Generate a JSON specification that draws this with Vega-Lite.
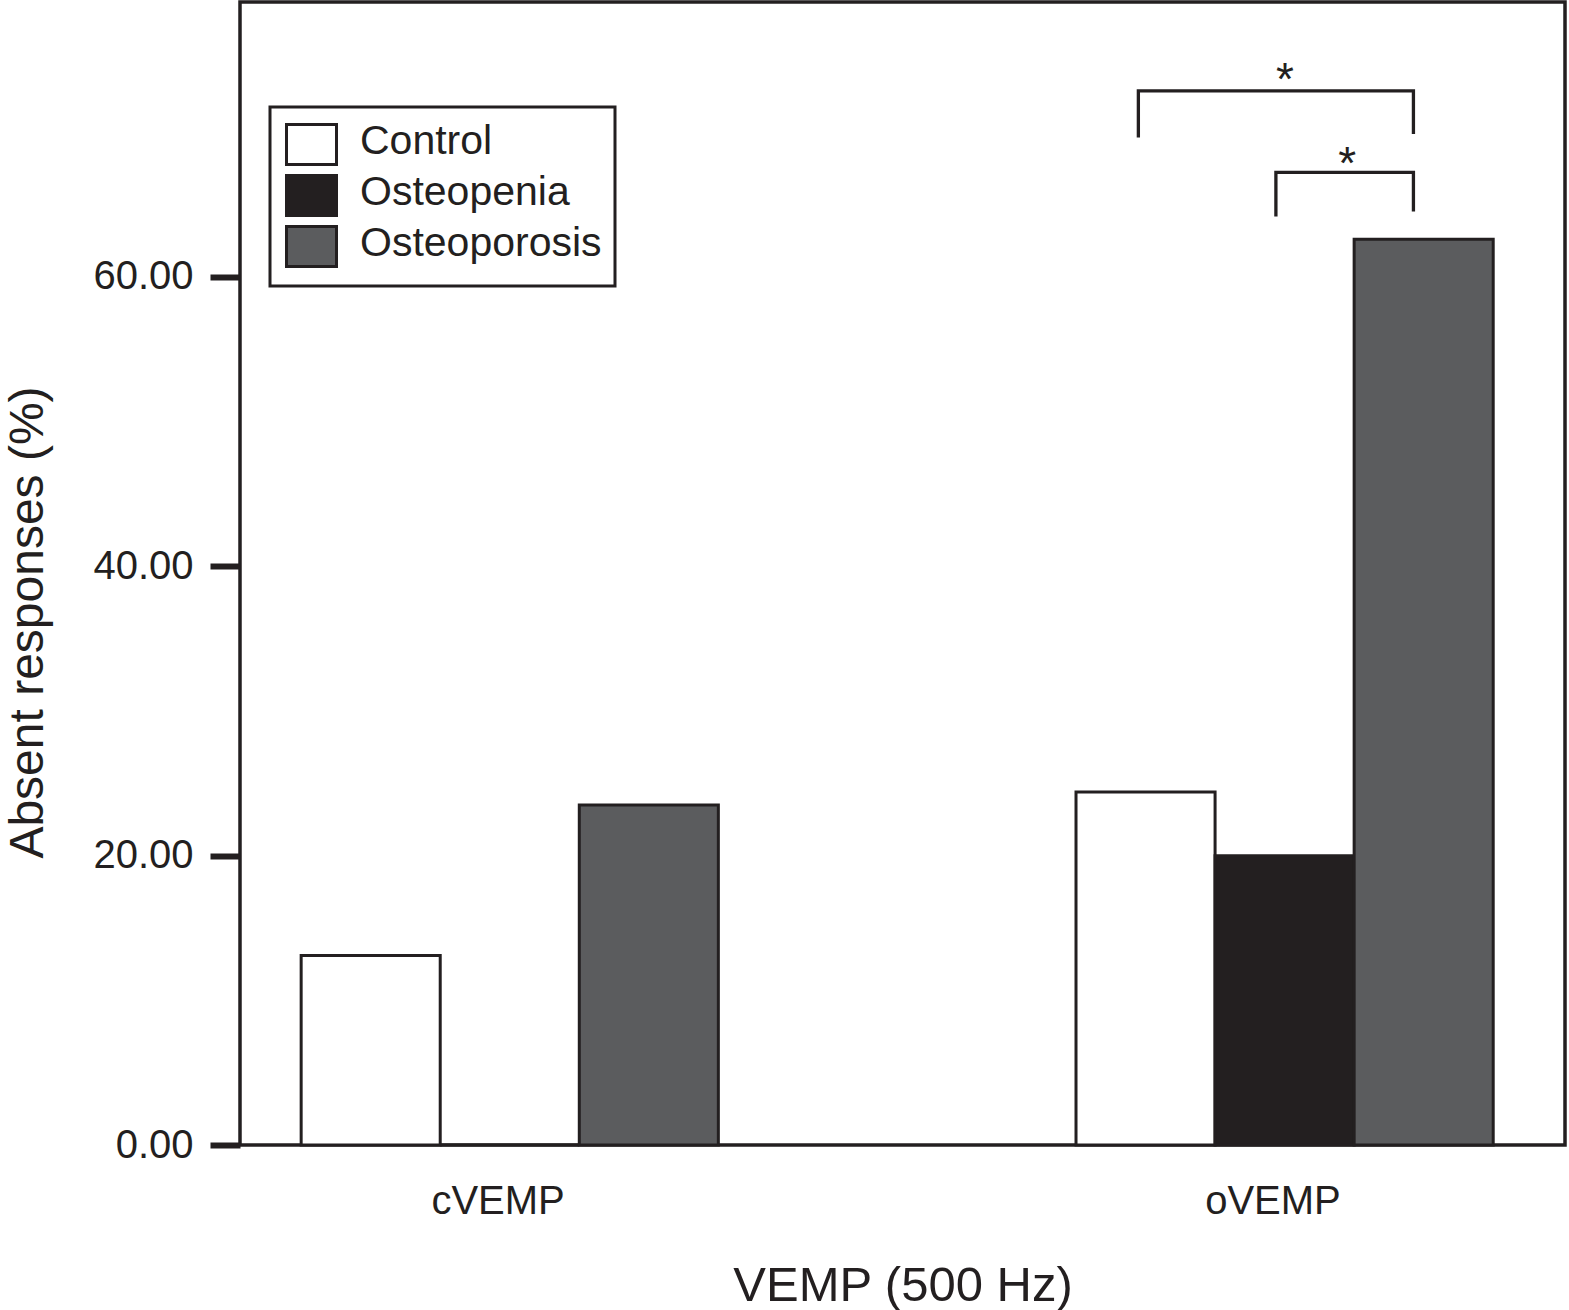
{
  "$schema": "https://vega.github.io/schema/vega-lite/v6.json",
  "autosize": {"type": "none"},
  "padding": {"left": 240, "top": 2, "right": 4, "bottom": 165},
  "width": 1325,
  "height": 1143,
  "config": {
    "font": "Liberation Sans",
    "view": {"stroke": "#231f20", "strokeWidth": 3.5},
    "axis": {"labelColor": "#231f20", "titleColor": "#231f20", "titleFontWeight": "normal", "grid": false, "domain": false},
    "legend": {"strokeWidth": 3}
  },
  "datasets": {
    "vemp": [
      {"test": "cVEMP", "group": "Control", "absent": 13.1},
      {"test": "cVEMP", "group": "Osteopenia", "absent": 0},
      {"test": "cVEMP", "group": "Osteoporosis", "absent": 23.5},
      {"test": "oVEMP", "group": "Control", "absent": 24.4},
      {"test": "oVEMP", "group": "Osteopenia", "absent": 20.0},
      {"test": "oVEMP", "group": "Osteoporosis", "absent": 62.6}
    ],
    "brackets": [
      {"test": "oVEMP", "bracket": "b1", "seq": 1, "at": "Control", "y": 69.64},
      {"test": "oVEMP", "bracket": "b1", "seq": 2, "at": "Control", "y": 72.86},
      {"test": "oVEMP", "bracket": "b1", "seq": 3, "at": "Osteoporosis", "y": 72.86},
      {"test": "oVEMP", "bracket": "b1", "seq": 4, "at": "Osteoporosis", "y": 69.87},
      {"test": "oVEMP", "bracket": "b2", "seq": 1, "at": "Osteopenia", "y": 64.17},
      {"test": "oVEMP", "bracket": "b2", "seq": 2, "at": "Osteopenia", "y": 67.22},
      {"test": "oVEMP", "bracket": "b2", "seq": 3, "at": "Osteoporosis", "y": 67.22},
      {"test": "oVEMP", "bracket": "b2", "seq": 4, "at": "Osteoporosis", "y": 64.52}
    ],
    "starWide": [{"test": "oVEMP", "at": "Osteopenia", "y": 72.55, "label": "*"}],
    "starNarrow": [{"test": "oVEMP", "at": "Osteopenia", "y": 66.8, "label": "*"}]
  },
  "encoding": {
    "x": {
      "field": "test",
      "type": "nominal",
      "title": "VEMP (500 Hz)",
      "scale": {"paddingInner": 0.29, "paddingOuter": 0},
      "axis": {
        "labelAngle": 0,
        "ticks": false,
        "labelFontSize": 40,
        "labelPadding": 36,
        "labelOffset": -17,
        "titleFontSize": 49,
        "titlePadding": 40
      }
    }
  },
  "resolve": {"scale": {"xOffset": "independent"}},
  "layer": [
    {
      "data": {"name": "vemp"},
      "mark": {"type": "bar", "stroke": "#231f20", "strokeWidth": 3},
      "encoding": {
        "xOffset": {
          "field": "group",
          "type": "nominal",
          "scale": {"domain": ["Control", "Osteopenia", "Osteoporosis"], "paddingInner": 0, "paddingOuter": 0.478, "align": 0.46}
        },
        "y": {
          "field": "absent",
          "type": "quantitative",
          "title": "Absent responses (%)",
          "scale": {"domain": [0, 79], "nice": false},
          "axis": {
            "values": [0, 20, 40, 60],
            "format": ".2f",
            "tickSize": 30,
            "tickWidth": 6,
            "tickColor": "#231f20",
            "labelFontSize": 40,
            "labelPadding": 17,
            "titleFontSize": 48,
            "titleAngle": -90,
            "titleAlign": "center",
            "titleBaseline": "alphabetic",
            "titleX": -198,
            "titleY": 620
          }
        },
        "fill": {
          "field": "group",
          "type": "nominal",
          "scale": {"domain": ["Control", "Osteopenia", "Osteoporosis"], "range": ["#ffffff", "#231f20", "#5b5c5e"]},
          "legend": {
            "title": null,
            "orient": "none",
            "legendX": 30,
            "legendY": 105,
            "strokeColor": "#231f20",
            "fillColor": "#ffffff",
            "padding": 13,
            "symbolType": "M-0.9,-0.85H1.6V1.15H-0.9Z",
            "symbolSize": 1600,
            "symbolStrokeColor": "#231f20",
            "symbolStrokeWidth": 3,
            "symbolOpacity": 1,
            "labelFontSize": 41,
            "labelColor": "#231f20",
            "labelOffset": 34,
            "labelLimit": 400,
            "rowPadding": -3.5
          }
        }
      }
    },
    {
      "data": {"name": "brackets"},
      "mark": {"type": "line", "color": "#231f20", "strokeWidth": 3.3, "strokeJoin": "miter"},
      "encoding": {
        "xOffset": {
          "field": "at",
          "type": "nominal",
          "scale": {"domain": ["Control", "Osteopenia", "Osteoporosis"], "paddingInner": 0, "paddingOuter": 1.125, "align": 0.449}
        },
        "y": {"field": "y", "type": "quantitative"},
        "detail": {"field": "bracket"},
        "order": {"field": "seq", "type": "quantitative"}
      }
    },
    {
      "data": {"name": "starWide"},
      "mark": {"type": "text", "fontSize": 46, "color": "#231f20", "baseline": "alphabetic"},
      "encoding": {
        "xOffset": {
          "field": "at",
          "type": "nominal",
          "scale": {"domain": ["Control", "Osteopenia", "Osteoporosis"], "paddingInner": 0, "paddingOuter": 1.125, "align": 0.482}
        },
        "y": {"field": "y", "type": "quantitative"},
        "text": {"field": "label"}
      }
    },
    {
      "data": {"name": "starNarrow"},
      "mark": {"type": "text", "fontSize": 46, "color": "#231f20", "baseline": "alphabetic"},
      "encoding": {
        "xOffset": {
          "field": "at",
          "type": "nominal",
          "scale": {"domain": ["Control", "Osteopenia", "Osteoporosis"], "paddingInner": 0, "paddingOuter": 1.125, "align": 0.708}
        },
        "y": {"field": "y", "type": "quantitative"},
        "text": {"field": "label"}
      }
    }
  ]
}
